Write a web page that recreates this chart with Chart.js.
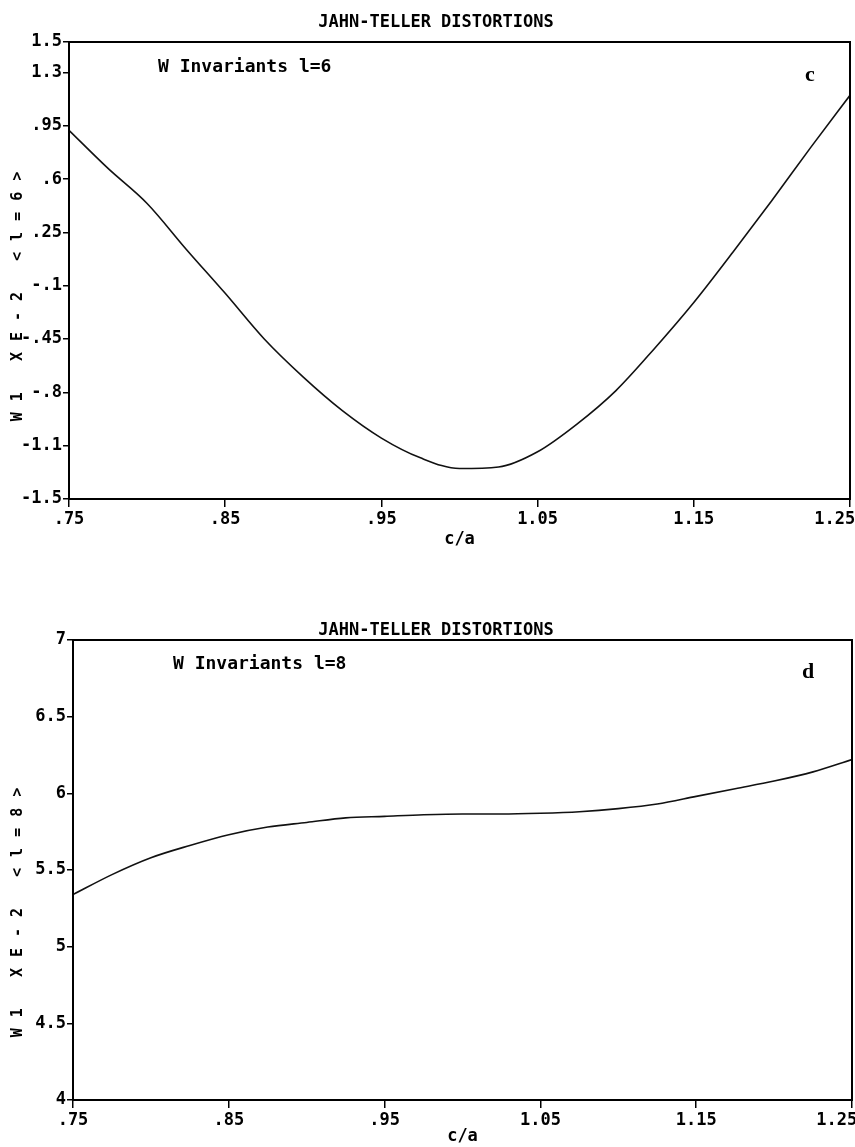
<!DOCTYPE html>
<html>
<head>
<meta charset="utf-8">
<script src="https://cdn.jsdelivr.net/npm/chart.js@4.4.1/dist/chart.umd.min.js"></script>
<style>
  html, body { margin: 0; padding: 0; background: #fff; }
  .panel { position: absolute; left: 0; width: 855px; }
  #panelC { top: 0; height: 570px; }
  #panelD { top: 570px; height: 577px; }
</style>
</head>
<body>
<div class="panel" id="panelC"><canvas id="chartC"></canvas></div>
<div class="panel" id="panelD"><canvas id="chartD"></canvas></div>
<script>
// c/a values shared by both panels
const ratio = [0.75, 0.775, 0.8, 0.825, 0.85, 0.875, 0.9, 0.925, 0.95, 0.975, 1.0,
  1.025, 1.05, 1.075, 1.1, 1.125, 1.15, 1.175, 1.2, 1.225, 1.25];

// panel c: W invariant l=6 (x 1E-2)
const w6 = [0.92, 0.67, 0.44, 0.14, -0.15, -0.45, -0.70, -0.92, -1.10, -1.23, -1.30,
  -1.29, -1.19, -1.01, -0.79, -0.51, -0.21, 0.12, 0.46, 0.81, 1.15];

// panel d: W invariant l=8 (x 1E-2)
const w8 = [5.34, 5.47, 5.58, 5.66, 5.73, 5.78, 5.81, 5.84, 5.85, 5.86, 5.865,
  5.865, 5.87, 5.88, 5.90, 5.93, 5.98, 6.03, 6.08, 6.14, 6.22];

const xTicks = [0.75, 0.85, 0.95, 1.05, 1.15, 1.25];
const xTickLabels = [".75", ".85", ".95", "1.05", "1.15", "1.25"];

const cTicks = [-1.5, -1.15, -0.8, -0.45, -0.1, 0.25, 0.6, 0.95, 1.3, 1.5];
const cTickLabels = ["-1.5", "-1.1", "-.8", "-.45", "-.1", ".25", ".6", ".95", "1.3", "1.5"];

const dTicks = [4, 4.5, 5, 5.5, 6, 6.5, 7];
const dTickLabels = ["4", "4.5", "5", "5.5", "6", "6.5", "7"];

const plotFont = { family: '"DejaVu Sans Mono", "Liberation Mono", monospace', size: 17, weight: 'bold' };

const plotText = {
  id: 'plotText',
  afterDraw(chart, args, o) {
    const { ctx, chartArea: a } = chart;
    ctx.save();
    ctx.strokeStyle = '#000';
    ctx.lineWidth = 2;
    ctx.strokeRect(a.left, a.top, a.right - a.left, a.bottom - a.top);
    ctx.fillStyle = '#000';
    ctx.textBaseline = 'middle';
    ctx.textAlign = 'center';
    ctx.font = 'bold 17px "DejaVu Sans Mono", monospace';
    ctx.fillText(o.title, 436, o.titleY);
    ctx.textAlign = 'left';
    ctx.font = 'bold 18px "DejaVu Sans Mono", monospace';
    ctx.fillText(o.note, o.noteX, o.noteY);
    ctx.textAlign = 'center';
    ctx.font = 'bold 22px "Liberation Serif", serif';
    ctx.fillText(o.letter, o.letterX, o.letterY);
    ctx.translate(18, o.yLabelY);
    ctx.rotate(-Math.PI / 2);
    ctx.font = 'bold 15px "DejaVu Sans Mono", monospace';
    ctx.letterSpacing = '11px';
    ctx.fillText(o.yLabel, 0, 0);
    ctx.restore();
  }
};

function makeChart(id, values, yMin, yMax, yTicks, yTickLabels, box, text) {
  const height = box.height;
  return new Chart(document.getElementById(id), {
    type: 'line',
    data: {
      datasets: [{
        data: ratio.map((x, i) => ({ x: x, y: values[i] })),
        borderColor: '#111',
        borderWidth: 1.6,
        pointRadius: 0,
        cubicInterpolationMode: 'monotone',
        fill: false,
      }],
    },
    options: {
      responsive: true,
      maintainAspectRatio: false,
      animation: false,
      layout: { padding: { top: box.top, right: box.right, left: 0, bottom: 0 } },
      plugins: {
        legend: { display: false },
        tooltip: { enabled: false },
        plotText: text,
      },
      scales: {
        x: {
          type: 'linear',
          min: 0.75,
          max: 1.25,
          afterBuildTicks: (s) => { s.ticks = xTicks.map((v) => ({ value: v })); },
          afterFit: (s) => {
            s.height = height - box.bottom;
            s.paddingLeft = 0;
            s.paddingRight = 0;
          },
          ticks: {
            autoSkip: false,
            maxRotation: 0,
            padding: 2,
            color: '#000',
            font: plotFont,
            callback: (v, i) => (i === xTickLabels.length - 1 ? xTickLabels[i] + '   ' : xTickLabels[i]),
          },
          grid: { drawOnChartArea: false, tickLength: 8, color: '#000', lineWidth: 1.5 },
          border: { color: '#000', width: 2 },
          title: {
            display: true,
            text: 'c/a',
            color: '#000',
            font: plotFont,
            padding: { top: 0, bottom: box.titlePad },
          },
        },
        y: {
          type: 'linear',
          min: yMin,
          max: yMax,
          afterBuildTicks: (s) => { s.ticks = yTicks.map((v) => ({ value: v })); },
          afterFit: (s) => {
            s.width = box.left;
            s.paddingTop = 0;
            s.paddingBottom = 0;
          },
          ticks: {
            autoSkip: false,
            padding: 1,
            color: '#000',
            font: plotFont,
            callback: (v, i) => yTickLabels[i],
          },
          grid: { drawOnChartArea: false, tickLength: 6, color: '#000', lineWidth: 1.5 },
          border: { color: '#000', width: 2 },
        },
      },
    },
    plugins: [plotText],
  });
}

makeChart('chartC', w6, -1.5, 1.5, cTicks, cTickLabels,
  { height: 570, top: 42, right: 5, left: 69, bottom: 499, titlePad: 20 },
  {
    title: 'JAHN-TELLER DISTORTIONS', titleY: 23,
    note: 'W Invariants l=6', noteX: 158, noteY: 67,
    letter: 'c', letterX: 810, letterY: 75,
    yLabel: 'W1 XE-2 <l=6>', yLabelY: 291,
  });

makeChart('chartD', w8, 4, 7, dTicks, dTickLabels,
  { height: 577, top: 70, right: 3, left: 73, bottom: 530, titlePad: 0 },
  {
    title: 'JAHN-TELLER DISTORTIONS', titleY: 61,
    note: 'W Invariants l=8', noteX: 173, noteY: 94,
    letter: 'd', letterX: 808, letterY: 102,
    yLabel: 'W1 XE-2 <l=8>', yLabelY: 337,
  });
</script>
</body>
</html>
